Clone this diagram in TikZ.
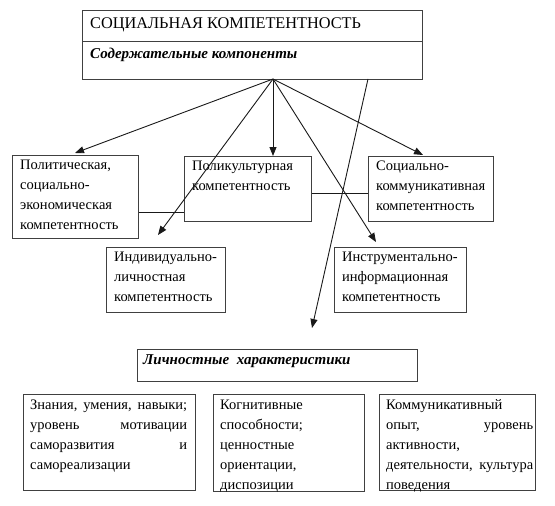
\documentclass[tikz,border=0pt]{standalone}
\usepackage{fontspec}
\setmainfont{Liberation Serif}
\usetikzlibrary{arrows.meta,calc}
\tikzset{
  bx/.style={draw=black!75, line width=1pt, anchor=north west, inner sep=0pt},
  txt/.style={inner sep=0pt, anchor=base west, font=\fontsize{14.5}{20}\selectfont},
  hd/.style={inner sep=0pt, anchor=base west, font=\fontsize{15}{18}\selectfont\bfseries\itshape},
  arr/.style={line width=0.9pt, draw=black!90, -{Triangle[length=9pt,width=7pt]}},
  ln/.style={line width=0.9pt, draw=black!90},
  sep/.style={line width=1pt, draw=black!75}
}
\newcommand{\jline}[2]{\makebox[#1pt][s]{#2}}
\begin{document}
\begin{tikzpicture}[x=1pt,y=-1pt]
\useasboundingbox (0,0) rectangle (555,506);
% top box
\node[bx, minimum width=340pt, minimum height=69pt] (top) at (82,10) {};
\draw[sep] ([yshift=-31pt]top.north west) -- ([yshift=-31pt]top.north east);
\node[inner sep=0pt, anchor=base west, font=\fontsize{16.3}{18}\selectfont] (title) at ([shift={(8pt,-18pt)}]top.north west) {СОЦИАЛЬНАЯ КОМПЕТЕНТНОСТЬ};
\node[hd] (sub) at ([shift={(8pt,-48pt)}]top.north west) {Содержательные компоненты};
% middle boxes
\node[bx, minimum width=126pt, minimum height=83pt] (pol) at (12,155) {};
\node[txt] (polt) at ([shift={(8pt,-14pt)}]pol.north west) {\parbox[t]{120pt}{Политическая,\\ социально-\\ экономическая\\ компетентность}};
\node[bx, minimum width=127pt, minimum height=65pt] (poly) at (184,156) {};
\node[txt] (polyt) at ([shift={(8pt,-14pt)}]poly.north west) {\parbox[t]{120pt}{Поликультурная\\ компетентность}};
\node[bx, minimum width=125pt, minimum height=65pt] (soc) at (368,156) {};
\node[txt] (soct) at ([shift={(8pt,-14pt)}]soc.north west) {\parbox[t]{120pt}{Социально-\\ коммуникативная\\ компетентность}};
\node[bx, minimum width=119pt, minimum height=65pt] (ind) at (106,247) {};
\node[txt] (indt) at ([shift={(8pt,-14pt)}]ind.north west) {\parbox[t]{120pt}{Индивидуально-\\ личностная\\ компетентность}};
\node[bx, minimum width=132pt, minimum height=65pt] (ins) at (334,247) {};
\node[txt] (inst) at ([shift={(8pt,-14pt)}]ins.north west) {\parbox[t]{130pt}{Инструментально-\\ информационная\\ компетентность}};
% personal characteristics
\node[bx, minimum width=280pt, minimum height=32pt] (lich) at (137,349) {};
\node[hd] (licht) at ([shift={(6pt,-15pt)}]lich.north west) {Личностные\ \ характеристики};
% bottom boxes
\node[bx, minimum width=172pt, minimum height=96pt] (b1) at (23,394) {};
\node[txt] (b1t) at ([shift={(7pt,-15pt)}]b1.north west) {\parbox[t]{157pt}{\jline{157}{Знания, умения, навыки;}\\ \jline{157}{уровень мотивации}\\ \jline{157}{саморазвития и}\\ самореализации}};
\node[bx, minimum width=151pt, minimum height=97pt] (b2) at (213,394) {};
\node[txt] (b2t) at ([shift={(7pt,-15pt)}]b2.north west) {\parbox[t]{140pt}{Когнитивные\\ способности;\\ ценностные\\ ориентации,\\ диспозиции}};
\node[bx, minimum width=156pt, minimum height=96pt] (b3) at (379,394) {};
\node[txt] (b3t) at ([shift={(7pt,-15pt)}]b3.north west) {\parbox[t]{147pt}{Коммуникативный\\ \jline{147}{опыт, уровень}\\ активности,\\ \jline{147}{деятельности, культура}\\ поведения}};
% connectors between boxes
\draw[ln] ([yshift=-15.5pt]pol.east) -- ([yshift=-15.5pt]pol.east -| poly.west);
\draw[ln] ([yshift=-4.5pt]poly.east) -- ([yshift=-4.5pt]poly.east -| soc.west);
% arrows from the top box
\coordinate (apex) at (273,79);
\coordinate (tpol) at (75,153);
\coordinate (tsoc) at (423,155);
\coordinate (tind) at (158,235);
\coordinate (tins) at (376,242);
\coordinate (ls) at (368,79);
\coordinate (tlich) at (312,328);
\draw[arr] (apex) -- (tpol);
\draw[arr] (apex) -- (apex |- poly.north);
\draw[arr] (apex) -- (tsoc);
\draw[arr] (apex) -- (tind);
\draw[arr] (apex) -- (tins);
\draw[arr] (ls) -- (tlich);
\end{tikzpicture}
\end{document}
